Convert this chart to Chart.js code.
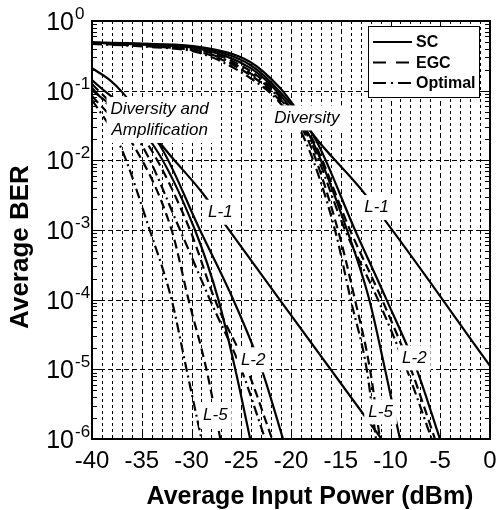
<!DOCTYPE html>
<html>
<head>
<meta charset="utf-8">
<script src="https://cdn.jsdelivr.net/npm/chart.js@4.4.1/dist/chart.umd.min.js"></script>
<style>
  html, body { margin: 0; padding: 0; background: #fff; }
  #wrap { width: 496px; height: 510px; position: relative; }
</style>
</head>
<body>
<div id="wrap"><canvas id="berChart"></canvas></div>
<script>
// ejes
const xTicks = [-40, -35, -30, -25, -20, -15, -10, -5, 0];
const yDecades = [1, 1e-1, 1e-2, 1e-3, 1e-4, 1e-5, 1e-6];
const yExponents = ['0', '-1', '-2', '-3', '-4', '-5', '-6'];
const legendNames = ['SC', 'EGC', 'Optimal'];

// Diversity and Amplification (dBm, BER)
const ampL1X = [-40, -38.2, -36.9, -35.0, -33.0, -28.9, -26.8, -20.0, -10.9];
const ampL1Y = [0.21, 0.142, 0.093, 0.041, 0.0166, 0.0034, 0.0013, 6e-5, 1e-6];
const ampL2ScX = [-40, -33.2, -29.15, -25.8, -22.95, -20.8];
const ampL2ScY = [0.142, 0.0166, 1e-3, 1e-4, 1e-5, 1e-6];
const ampL2EgcX = [-40, -34.35, -30.15, -27.65, -24.4, -21.9];
const ampL2EgcY = [0.125, 0.0166, 1e-3, 1e-4, 1e-5, 1e-6];
const ampL2OptX = [-40, -35.0, -31.15, -28.15, -25.0, -22.6];
const ampL2OptY = [0.109, 0.0166, 1e-3, 1e-4, 1e-5, 1e-6];
const ampL5ScX = [-40, -33.85, -29.65, -27.3, -25.6, -24.1];
const ampL5ScY = [0.102, 0.0166, 1e-3, 1e-4, 1e-5, 1e-6];
const ampL5EgcX = [-40, -35.85, -32.0, -30.3, -28.5, -27.1];
const ampL5EgcY = [0.084, 0.0166, 1e-3, 1e-4, 1e-5, 1e-6];
const ampL5OptX = [-40, -37.2, -34.2, -32.0, -30.5, -29.0];
const ampL5OptY = [0.074, 0.0166, 1e-3, 1e-4, 1e-5, 1e-6];

// Diversity
const divL1X = [-40, -34.2, -29.15, -24.1, -21.1, -19.4, -17.9, -12.9, 0];
const divL1Y = [0.492, 0.468, 0.424, 0.258, 0.109, 0.0528, 0.0247, 0.00376, 1.12e-5];
const divL2ScX = [-40, -34.2, -29.15, -24.1, -21.1, -17.5, -13.57, -10.4, -7.37, -5.03];
const divL2ScY = [0.488, 0.46, 0.41, 0.234, 0.0958, 0.0196, 1e-3, 1e-4, 1e-5, 1e-6];
const divL2EgcX = [-40, -34.2, -29.15, -24.1, -21.1, -17.8, -14.07, -10.85, -7.94, -5.53];
const divL2EgcY = [0.483, 0.445, 0.384, 0.192, 0.0812, 0.0196, 1e-3, 1e-4, 1e-5, 1e-6];
const divL2OptX = [-40, -34.2, -29.15, -24.1, -21.1, -18.1, -14.57, -11.26, -8.37, -5.86];
const divL2OptY = [0.483, 0.438, 0.371, 0.179, 0.076, 0.0196, 1e-3, 1e-4, 1e-5, 1e-6];
const divL5ScX = [-40, -34.2, -29.15, -24.1, -21.1, -17.9, -14.37, -12.13, -10.55, -9.05];
const divL5ScY = [0.488, 0.453, 0.397, 0.212, 0.0867, 0.0196, 1e-3, 1e-4, 1e-5, 1e-6];
const divL5EgcX = [-40, -34.2, -29.15, -24.1, -21.1, -18.3, -15.28, -13.57, -12.06, -11.06];
const divL5EgcY = [0.475, 0.431, 0.359, 0.168, 0.0712, 0.0196, 1e-3, 1e-4, 1e-5, 1e-6];
const divL5OptX = [-40, -34.2, -29.15, -24.1, -21.1, -18.6, -15.58, -14.0, -12.39, -11.46];
const divL5OptY = [0.468, 0.424, 0.347, 0.152, 0.0667, 0.0196, 1e-3, 1e-4, 1e-5, 1e-6];

// textos dentro del gráfico (posición en dBm / BER)
const labelSpots = [
  { text: ['Diversity and', 'Amplification'], x: -33.2, y: 0.038 },
  { text: ['Diversity'], x: -18.4, y: 0.0406 },
  { text: ['L-1'], x: -27.1, y: 1.8e-3 },
  { text: ['L-1'], x: -11.4, y: 2.1e-3 },
  { text: ['L-2'], x: -23.8, y: 1.37e-5 },
  { text: ['L-2'], x: -7.6, y: 1.46e-5 },
  { text: ['L-5'], x: -27.6, y: 2.2e-6 },
  { text: ['L-5'], x: -11.0, y: 2.45e-6 }
];

const FONT = '"Liberation Sans", Arial, sans-serif';
const SOLID = [];
const DASH = [9, 5];
const DASHDOT = [10, 4, 2, 4];
const legendDash = [SOLID, [13, 10], [13, 5, 2, 5]];

function curve(xs, ys, dash) {
    return {
        data: xs.map((v, i) => ({ x: v, y: ys[i] })),
        borderColor: '#000',
        borderWidth: 2.2,
        borderDash: dash,
        pointRadius: 0,
        fill: false,
        cubicInterpolationMode: 'monotone'
    };
}

function line(ctx, x1, y1, x2, y2) {
    ctx.beginPath();
    ctx.moveTo(x1, y1);
    ctx.lineTo(x2, y2);
    ctx.stroke();
}

const framePlugin = {
    id: 'frame',
    beforeDatasetsDraw(chart) {
        const { ctx, chartArea: a, scales: { x, y } } = chart;
        ctx.save();
        ctx.strokeStyle = '#000';
        ctx.lineWidth = 1;
        // rejilla vertical cada 1 dBm
        for (let v = -39; v < 0; v++) {
            const px = Math.round(x.getPixelForValue(v)) + 0.5;
            ctx.setLineDash(v % 5 === 0 ? [5, 3] : [3, 3]);
            line(ctx, px, a.top, px, a.bottom);
        }
        // rejilla horizontal en cada década
        ctx.setLineDash([5, 3]);
        yDecades.slice(1, -1).forEach(v => {
            const py = Math.round(y.getPixelForValue(v)) + 0.5;
            line(ctx, a.left, py, a.right, py);
        });
        ctx.restore();
    },
    afterDatasetsDraw(chart) {
        const { ctx, chartArea: a, scales: { x, y } } = chart;
        ctx.save();
        ctx.setLineDash([]);

        // etiquetas con fondo blanco
        ctx.font = 'italic 17px ' + FONT;
        ctx.textAlign = 'center';
        ctx.textBaseline = 'middle';
        labelSpots.forEach(s => {
            const cx = x.getPixelForValue(s.x);
            const cy = y.getPixelForValue(s.y);
            const w = Math.max(...s.text.map(t => ctx.measureText(t).width)) + 8;
            const h = s.text.length * 21 + 4;
            ctx.fillStyle = '#fff';
            ctx.fillRect(cx - w / 2, cy - h / 2, w, h);
            ctx.fillStyle = '#000';
            s.text.forEach((t, i) => ctx.fillText(t, cx, cy + (i - (s.text.length - 1) / 2) * 21));
        });

        // leyenda
        const lx = a.right - 122, ly = a.top + 5, lw = 111, lh = 71;
        ctx.fillStyle = '#fff';
        ctx.fillRect(lx, ly, lw, lh);
        ctx.strokeStyle = '#000';
        ctx.lineWidth = 1;
        ctx.strokeRect(lx + 0.5, ly + 0.5, lw, lh);
        ctx.font = 'bold 16px ' + FONT;
        ctx.textAlign = 'left';
        ctx.textBaseline = 'middle';
        legendNames.forEach((name, i) => {
            const ry = ly + 16 + i * 20.5;
            ctx.lineWidth = 2.2;
            ctx.setLineDash(legendDash[i]);
            line(ctx, lx + 5, ry, lx + 44, ry);
            ctx.setLineDash([]);
            ctx.fillStyle = '#000';
            ctx.fillText(name, lx + 48, ry + 1);
        });

        // marco
        ctx.lineWidth = 2;
        ctx.strokeRect(a.left, a.top, a.right - a.left, a.bottom - a.top);

        // marcas en x
        ctx.lineWidth = 1;
        for (let v = -40; v <= 0; v++) {
            const px = Math.round(x.getPixelForValue(v)) + 0.5;
            const len = v % 5 === 0 ? 8 : 4;
            line(ctx, px, a.bottom, px, a.bottom - len);
        }
        // marcas en y (izquierda y derecha)
        yDecades.forEach((d, i) => {
            const py = Math.round(y.getPixelForValue(d)) + 0.5;
            line(ctx, a.left, py, a.left + 9, py);
            line(ctx, a.right, py, a.right - 9, py);
            if (i === 0) return;
            for (let k = 2; k <= 9; k++) {
                const pm = Math.round(y.getPixelForValue(k * d)) + 0.5;
                line(ctx, a.left, pm, a.left + 5, pm);
                line(ctx, a.right, pm, a.right - 5, pm);
            }
        });

        // números de los ejes
        ctx.fillStyle = '#000';
        ctx.font = '24px ' + FONT;
        ctx.textAlign = 'center';
        ctx.textBaseline = 'alphabetic';
        xTicks.forEach(v => ctx.fillText(String(v), x.getPixelForValue(v), a.bottom + 29));
        yDecades.forEach((d, i) => {
            const py = y.getPixelForValue(d);
            ctx.font = '25px ' + FONT;
            ctx.textAlign = 'right';
            ctx.fillText('10', a.left - 18, py + 9);
            ctx.font = '17px ' + FONT;
            ctx.textAlign = 'left';
            ctx.fillText(yExponents[i], a.left - 17, py - 2);
        });

        // títulos
        ctx.font = 'bold 25px ' + FONT;
        ctx.textAlign = 'center';
        ctx.textBaseline = 'middle';
        ctx.fillText('Average Input Power (dBm)', 310, a.bottom + 58);
        ctx.translate(21, 247);
        ctx.rotate(-Math.PI / 2);
        ctx.font = 'bold 26px ' + FONT;
        ctx.fillText('Average BER', 0, 0);
        ctx.restore();
    }
};

new Chart(document.getElementById('berChart'), {
    type: 'line',
    data: {
        datasets: [
            curve(ampL1X, ampL1Y, SOLID),
            curve(ampL2ScX, ampL2ScY, SOLID),
            curve(ampL2EgcX, ampL2EgcY, DASH),
            curve(ampL2OptX, ampL2OptY, DASHDOT),
            curve(ampL5ScX, ampL5ScY, SOLID),
            curve(ampL5EgcX, ampL5EgcY, DASH),
            curve(ampL5OptX, ampL5OptY, DASHDOT),
            curve(divL1X, divL1Y, SOLID),
            curve(divL2ScX, divL2ScY, SOLID),
            curve(divL2EgcX, divL2EgcY, DASH),
            curve(divL2OptX, divL2OptY, DASHDOT),
            curve(divL5ScX, divL5ScY, SOLID),
            curve(divL5EgcX, divL5EgcY, DASH),
            curve(divL5OptX, divL5OptY, DASHDOT)
        ]
    },
    options: {
        responsive: true,
        maintainAspectRatio: false,
        animation: false,
        layout: { padding: { top: 21, right: 6, left: 0, bottom: 0 } },
        plugins: { legend: { display: false }, tooltip: { enabled: false } },
        scales: {
            x: {
                type: 'linear', min: -40, max: 0,
                grid: { display: false }, border: { display: false },
                ticks: { display: false },
                afterFit: s => { s.height = 71; }
            },
            y: {
                type: 'logarithmic', min: 1e-6, max: 1,
                grid: { display: false }, border: { display: false },
                ticks: { display: false },
                afterFit: s => { s.width = 92; }
            }
        }
    },
    plugins: [framePlugin]
});
</script>
</body>
</html>
